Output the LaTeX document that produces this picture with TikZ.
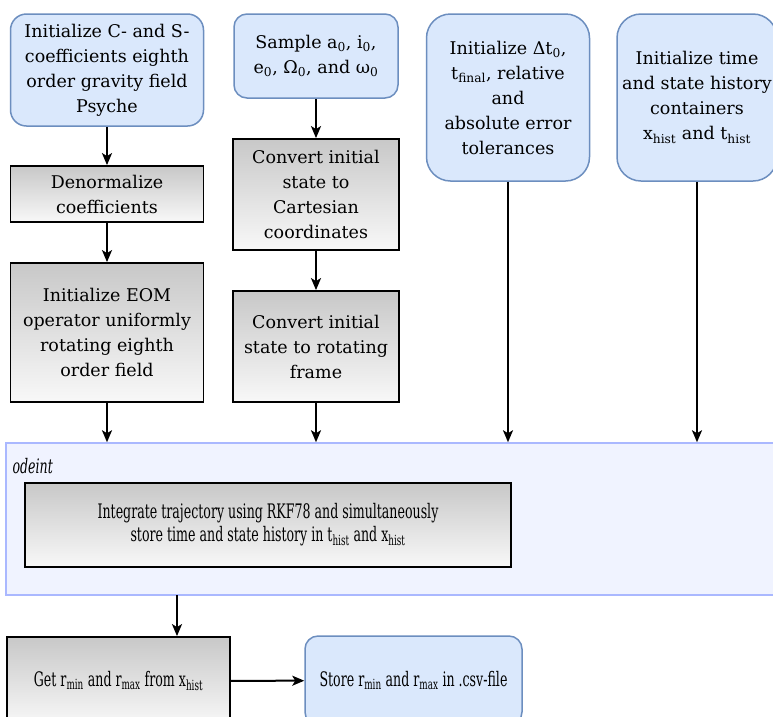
\documentclass[tikz,border=0pt]{standalone}
\usepackage{fontspec}
\setmainfont{DejaVu Serif}
\newfontfamily\narrowserif[FakeStretch=0.63]{DejaVu Serif}
\usetikzlibrary{arrows.meta}

\definecolor{inputfill}{HTML}{DAE8FC}
\definecolor{inputline}{HTML}{6C8EBF}
\definecolor{procTop}{HTML}{C8C8C8}
\definecolor{procBot}{HTML}{F8F8F8}
\definecolor{odefill}{HTML}{F0F3FF}
\definecolor{odeline}{HTML}{AAB8FF}

\begin{document}
\begin{tikzpicture}[x=1pt,y=-1pt,
  inputbox/.style={draw=inputline, line width=1.5pt, fill=inputfill, align=center,
    font=\fontsize{17.5}{25}\selectfont, inner sep=2pt},
  procbox/.style={draw=black, line width=1.8pt, top color=procTop, bottom color=procBot,
    align=center, font=\fontsize{17.5}{25}\selectfont, inner sep=2pt},
  flow/.style={-{Stealth[length=12pt,width=10pt,inset=3pt]}, line width=2pt}]
\path[use as bounding box, clip] (0,0) rectangle (773,716);
\fill[white] (0,0) rectangle (773,716);

\node[inputbox, minimum width=193pt, minimum height=112pt, rounded corners=16pt] (coef) at (107,70)
  {Initialize C- and S-\\coefficients eighth\\order gravity field\\Psyche};
\node[inputbox, minimum width=164pt, minimum height=84pt, rounded corners=13pt] (sample) at (316,56)
  {Sample a\textsubscript{0}, i\textsubscript{0},\\e\textsubscript{0}, Ω\textsubscript{0}, and ω\textsubscript{0}};
\node[inputbox, minimum width=163pt, minimum height=167pt, rounded corners=24pt] (tol) at (508,97.5)
  {Initialize Δt\textsubscript{0},\\t\textsubscript{final}, relative\\and\\absolute error\\tolerances};
\node[inputbox, minimum width=160pt, minimum height=167pt, rounded corners=24pt] (hist) at (697,97.5)
  {Initialize time\\and state history\\containers\\x\textsubscript{hist} and t\textsubscript{hist}};

\node[procbox, minimum width=193pt, minimum height=56pt] (denorm) at (107,194)
  {Denormalize\\coefficients};
\node[procbox, minimum width=166pt, minimum height=111pt] (cart) at (316,194.5)
  {Convert initial\\state to\\Cartesian\\coordinates};
\node[procbox, minimum width=193pt, minimum height=139pt] (eom) at (107,332.5)
  {Initialize EOM\\operator uniformly\\rotating eighth\\order field};
\node[procbox, minimum width=166pt, minimum height=111pt] (rot) at (316,346.5)
  {Convert initial\\state to rotating\\frame};

\node[draw=odeline, line width=1.5pt, fill=odefill, minimum width=784pt, minimum height=152pt] (ode) at (398,519) {};
\node[anchor=west, font=\narrowserif\itshape\fontsize{20}{22}\selectfont] (odelabel) at (9,466) {odeint};
\node[procbox, font=\narrowserif\fontsize{20}{23}\selectfont, minimum width=486pt, minimum height=84pt] (integ) at (268,525)
  {Integrate trajectory using RKF78 and simultaneously\\store time and state history in t\textsubscript{hist} and x\textsubscript{hist}};

\node[procbox, font=\narrowserif\fontsize{20}{23}\selectfont, minimum width=223pt, minimum height=88pt] (get) at (118.5,681)
  {Get r\textsubscript{min} and r\textsubscript{max} from x\textsubscript{hist}};
\node[inputbox, font=\narrowserif\fontsize{20}{23}\selectfont, minimum width=217pt, minimum height=89pt, rounded corners=13pt] (store) at (413.5,680.5)
  {Store r\textsubscript{min} and r\textsubscript{max} in .csv-file};
\coordinate (tap) at (177,595);

\draw[flow] (coef) -- (denorm);
\draw[flow] (denorm) -- (eom);
\draw[flow] (eom) -- (eom |- ode.north);
\draw[flow] (sample) -- (cart);
\draw[flow] (cart) -- (rot);
\draw[flow] (rot) -- (rot |- ode.north);
\draw[flow] (tol) -- (tol |- ode.north);
\draw[flow] (hist) -- (hist |- ode.north);
\draw[flow] (tap) -- (tap |- get.north);
\draw[flow] (get) -- (store);
\end{tikzpicture}
\end{document}
